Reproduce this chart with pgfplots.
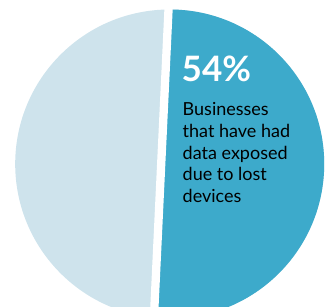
\documentclass[border=0pt]{standalone}
\usepackage{pgfplots}
\pgfplotsset{compat=1.18}
\usepackage{fontspec}
\setmainfont{Lato}
\definecolor{pieblue}{HTML}{3DAACB}
\definecolor{pielight}{HTML}{CEE3EC}
\begin{document}
\begin{tikzpicture}
\useasboundingbox (0,0) rectangle (331bp,307bp);
\begin{axis}[width=331bp,height=307bp,scale only axis,
  xmin=0,xmax=331,ymin=0,ymax=307,hide axis,clip=true]
% 54% share (blue), 46% share (light)
\fill[pielight] (axis cs:169.7,143) circle[radius=154.5];
\begin{scope}
\clip (axis cs:170.06,330) -- (axis cs:420,330) -- (axis cs:420,-40) -- (axis cs:153.0,-30) -- cycle;
\fill[pieblue] (axis cs:169.7,143) circle[radius=154.5];
\end{scope}
\draw[white,line width=8.3bp] (axis cs:170.06,330) -- (axis cs:153.0,-30);
\node[anchor=base west,inner sep=0,text=white,font=\fontsize{35bp}{35bp}\selectfont\bfseries] at (axis cs:181.5,225) {54\%};
\node[anchor=base west,inner sep=0,text=black,font=\fontsize{18bp}{20bp}\selectfont] at (axis cs:182.5,191.3) {Businesses};
\node[anchor=base west,inner sep=0,text=black,font=\fontsize{18bp}{20bp}\selectfont] at (axis cs:182.5,169.6) {that have had};
\node[anchor=base west,inner sep=0,text=black,font=\fontsize{18bp}{20bp}\selectfont] at (axis cs:182.5,147.9) {data exposed};
\node[anchor=base west,inner sep=0,text=black,font=\fontsize{18bp}{20bp}\selectfont] at (axis cs:182.5,126.2) {due to lost};
\node[anchor=base west,inner sep=0,text=black,font=\fontsize{18bp}{20bp}\selectfont] at (axis cs:182.5,104.5) {devices};
\end{axis}
\end{tikzpicture}
\end{document}
